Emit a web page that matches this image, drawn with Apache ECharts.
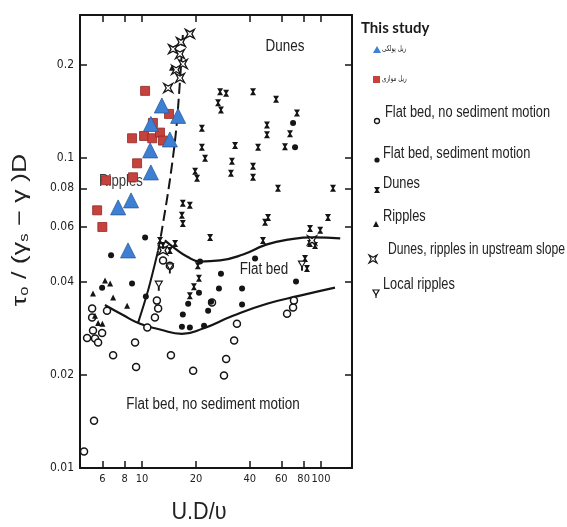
<!DOCTYPE html>
<html>
<head>
<meta charset="utf-8">
<script src="https://cdn.jsdelivr.net/npm/echarts@6.0.0/dist/echarts.min.js"></script>
<style>
html,body{margin:0;padding:0;background:#fff;}
#echart{width:567px;height:527px;}
</style>
</head>
<body>
<div id="echart"></div>
<script>
// tick values on the two log axes
var xTicks = [6, 8, 10, 20, 40, 60, 80, 100];
var yTicks = [0.01, 0.02, 0.04, 0.06, 0.08, 0.1, 0.2];

// this study
var rippleParallel = [[12.9,0.148],[15.9,0.137],[11.2,0.129],[14.3,0.115],[11.1,0.106],[11.2,0.090],[8.68,0.0731],[7.35,0.0694],[8.35,0.0504]];
var rippleLinear = [[10.4,0.165],[14.15,0.139],[11.5,0.130],[8.79,0.116],[10.26,0.118],[11.4,0.116],[12.6,0.121],[13.1,0.114],[9.38,0.0963],[8.9,0.0868],[6.29,0.0849],[5.61,0.0679],[6.0,0.060]];

// older data set
var flatNoMotion = [[4.74,0.0113],[5.39,0.0142],[4.93,0.0263],[5.26,0.0306],[5.32,0.0278],[5.46,0.0262],[5.68,0.0254],[5.98,0.0273],[6.37,0.0322],[5.26,0.0327],[6.89,0.0231],[9.14,0.0254],[9.26,0.0212],[10.7,0.0284],[11.8,0.0306],[12.1,0.0347],[12.3,0.0327],[13.1,0.0468],[14.3,0.045],[14.5,0.0231],[19.3,0.0206],[24.6,0.0342],[28.7,0.0199],[29.5,0.0225],[32.7,0.0258],[33.9,0.0292],[64.6,0.0315],[69.8,0.033],[70.6,0.0347]];
var flatMotion = [[6.71,0.0486],[10.4,0.0555],[8.79,0.0394],[10.5,0.0358],[5.98,0.0382],[16.9,0.0313],[18.1,0.0339],[18.5,0.0284],[20.8,0.0368],[23.4,0.0322],[24.3,0.0344],[27.6,0.0424],[26.9,0.038],[36.2,0.038],[36.2,0.0337],[42.8,0.0475],[72.5,0.040],[21.1,0.0464],[16.7,0.0286],[22.2,0.0288],[69.8,0.130],[71.6,0.1085]];
var dunes = [[27.3,0.164],[29.5,0.162],[26.6,0.151],[27.6,0.143],[41.7,0.164],[56.1,0.155],[73.4,0.140],[49.9,0.128],[49.9,0.119],[67.1,0.120],[21.6,0.125],[21.6,0.1085],[22.5,0.100],[33.1,0.110],[31.8,0.0978],[31.4,0.0894],[44.5,0.1085],[41.7,0.0942],[41.7,0.0868],[62.9,0.109],[57.5,0.080],[116.7,0.080],[19.8,0.0908],[20.3,0.0862],[16.9,0.0715],[18.5,0.0705],[16.7,0.0654],[16.9,0.0616],[24,0.0555],[50.6,0.0644],[48.7,0.0621],[109.4,0.0644],[86.8,0.0593],[99,0.0585],[86.8,0.0531],[92.6,0.0523],[81.4,0.0475],[83.5,0.0441],[13.1,0.0523],[14.3,0.0504],[15.3,0.0531],[12.6,0.0543],[20.5,0.045],[20.8,0.041],[19.5,0.0385],[18.5,0.036],[47.4,0.0543]];
var ripples = [[6.21,0.0403],[6.63,0.0394],[6.89,0.0355],[8.25,0.0334],[5.46,0.031],[5.68,0.0294],[6.0,0.0292],[5.32,0.0366],[14.7,0.196]];
var dunesUpstream = [[18.5,0.252],[16.5,0.237],[14.9,0.225],[16.3,0.217],[16.9,0.2015],[15.5,0.193],[16.3,0.1815],[14.0,0.1685],[89.1,0.0543],[13.1,0.0504]];
var localRipples = [[12.4,0.0388],[14.3,0.0441],[78.3,0.045]];

// boundary curves
var dashedBound = [[16.9,0.25],[16.3,0.179],[15.5,0.123],[14.3,0.0849],[12.9,0.0585],[12.3,0.0504]];
var leftBound = [[12.3,0.0504],[10.8,0.0374],[9.5,0.0294]];
var upperBound = [[13.4,0.0543],[15.3,0.0511],[17.8,0.0482],[21.1,0.0464],[27.3,0.0468],[36.7,0.0489],[49.9,0.0527],[67.1,0.0547],[90.2,0.0555],[128,0.0551]];
var lowerBound = [[6.2,0.0336],[7.73,0.0313],[9.75,0.0292],[12.6,0.028],[16.7,0.0271],[21.9,0.0282],[32.2,0.031],[49.9,0.0339],[76.3,0.036],[119.7,0.0382]];

var FONT = "'Liberation Sans',Arial,sans-serif";
var INK = '#151515';
var DUNE = 'path://M0,0L10,0L6.4,5L10,10L0,10L3.6,5Z';
var STAR = 'path://M0,0L5,2.8L10,0L7.2,5L10,10L5,7.2L0,10L2.8,5Z';
var LOCAL = 'path://M0,0L10,0L5,8ZM4.4,8L5.6,8L5.6,12L4.4,12Z';

function makeAxis(pos, min, max, ticks, withLabel, fmt, size){
	return {
		type:'log', logBase:10, position:pos, min:min, max:max,
		axisLine:{show:true, onZero:false, lineStyle:{color:INK, width:2}},
		axisTick:{show:true, inside:true, length:7, customValues:ticks, lineStyle:{color:INK, width:1.5}},
		axisLabel:{show:withLabel, customValues:ticks, formatter:fmt, fontFamily:"'DejaVu Sans Condensed',sans-serif", fontSize:size, color:'#222', margin:6},
		splitLine:{show:false},
		minorTick:{show:false}
	};
}

// condensed text: the scan uses a narrow face, so squeeze a regular one
function txt(x, y, s, size, opt){
	var o = opt || {};
	return {
		type:'text', x:x, y:y, z:o.z || 10, rotation:o.rot || 0, scaleX:o.sx || 0.8,
		style:{text:s, fontFamily:o.font || FONT, fontSize:size, fontWeight:o.weight || 'normal',
			fill:o.color || '#222', align:o.align || 'left', verticalAlign:'middle', rich:o.rich}
	};
}

function poly(pts, fill, stroke){
	return {type:'polygon', z:10, shape:{points:pts}, style:{fill:fill, stroke:stroke || null, lineWidth:1.2}};
}

function legendGraphics(){
	var g = [];
	var fa = "'DejaVu Sans',sans-serif";
	g.push(txt(361, 28, 'This study', 15, {font:'Lato, sans-serif', weight:'bold', color:'#1a1a1a', sx:1}));
	g.push(poly([[373,53],[381,53],[377,46]], '#3d7fd4'));
	g.push(txt(382, 49, 'ریل پولکی', 8, {font:fa, sx:0.7}));
	g.push({type:'rect', z:10, shape:{x:373, y:76, width:7, height:7}, style:{fill:'#c8423d'}});
	g.push(txt(382, 79, 'ریل موازی', 8, {font:fa, sx:0.7}));

	g.push({type:'circle', z:10, shape:{cx:377, cy:121, r:2.5}, style:{fill:'#fff', stroke:INK, lineWidth:1.3}});
	g.push(txt(385, 113, 'Flat bed, no sediment motion', 16));
	g.push({type:'circle', z:10, shape:{cx:377, cy:160, r:2.6}, style:{fill:INK}});
	g.push(txt(383, 154, 'Flat bed, sediment motion', 16));
	g.push(poly([[374,187],[380,187],[378,190],[380,193],[374,193],[376,190]], INK));
	g.push(txt(383, 184, 'Dunes', 16));
	g.push(poly([[373,227],[379,227],[376,221]], INK));
	g.push(txt(383, 217, 'Ripples', 16));
	g.push(poly([[369,255],[373,257.2],[377,255],[374.8,259],[377,263],[373,260.8],[369,263],[371.2,259]], '#fff', INK));
	g.push(txt(388, 250, 'Dunes, ripples in upstream slope', 16, {sx:0.76}));
	g.push(poly([[373,290],[379,290],[376,295]], '#fff', INK));
	g.push({type:'line', z:10, shape:{x1:376, y1:295, x2:376, y2:298}, style:{stroke:INK, lineWidth:1.2}});
	g.push(txt(383, 285, 'Local ripples', 16));
	return g;
}

function initChart(){
	var domain = document.getElementById('echart');
	var myChart = echarts.init(domain, null, {renderer:'canvas'});
	var xFmt = function(v){ return String(Math.round(v)); };
	var yFmt = function(v){ return String(+v.toFixed(2)); };

	var graphics = [
		txt(285, 47, 'Dunes', 16, {align:'center', z:1, sx:0.84}),
		txt(121, 182, 'Ripples', 16, {align:'center', z:1, sx:0.82, color:'#3a3a3a'}),
		txt(264, 270, 'Flat bed', 16, {align:'center', z:1, sx:0.84}),
		txt(213, 405, 'Flat bed, no sediment motion', 16, {align:'center', z:1, sx:0.84}),
		txt(199, 512, 'U.D/\u03c5', 24, {align:'center', sx:0.9}),
		txt(20, 230, '{a|\u03c4}{b|o} / (\u03b3{b|s} \u2212 \u03b3 )D', 21, {align:'center', rot:Math.PI/2, sx:1.28,
			rich:{a:{fontSize:21, fontFamily:FONT, fill:'#222'},
				b:{fontSize:13, fontFamily:FONT, fill:'#222', verticalAlign:'bottom'}}})
	].concat(legendGraphics());

	var option = {
		animation:false,
		backgroundColor:'#fff',
		grid:{left:80, top:15, right:215, bottom:59},
		xAxis:[makeAxis('bottom', 4.5, 149, xTicks, true, xFmt, 11), makeAxis('top', 4.5, 149, xTicks, false, xFmt, 11)],
		yAxis:[makeAxis('left', 0.01, 0.29, yTicks, true, yFmt, 12), makeAxis('right', 0.01, 0.29, yTicks, false, yFmt, 12)],
		graphic:graphics,
		series:[
			{type:'line', data:dashedBound, smooth:0.3, symbol:'none', lineStyle:{color:INK, width:2, type:[11,5]}, z:3},
			{type:'line', data:leftBound, smooth:0.3, symbol:'none', lineStyle:{color:INK, width:2}, z:3},
			{type:'line', data:upperBound, smooth:0.5, symbol:'none', lineStyle:{color:INK, width:2.2}, z:3},
			{type:'line', data:lowerBound, smooth:0.5, symbol:'none', lineStyle:{color:INK, width:2.2}, z:3},
			{type:'scatter', data:flatNoMotion, symbol:'circle', symbolSize:7, itemStyle:{color:'#fff', borderColor:INK, borderWidth:1.5, opacity:1}, z:3},
			{type:'scatter', data:flatMotion, symbol:'circle', symbolSize:6, itemStyle:{color:INK, opacity:1}, z:3},
			{type:'scatter', data:dunes, symbol:DUNE, symbolSize:[6,7], itemStyle:{color:INK, opacity:1}, z:3},
			{type:'scatter', data:ripples, symbol:'triangle', symbolSize:6, itemStyle:{color:INK, opacity:1}, z:3},
			{type:'scatter', data:dunesUpstream, symbol:STAR, symbolSize:9, itemStyle:{color:'#fff', borderColor:INK, borderWidth:1.3, opacity:1}, z:3},
			{type:'scatter', data:localRipples, symbol:LOCAL, symbolSize:[7,9], itemStyle:{color:'#fff', borderColor:INK, borderWidth:1.2, opacity:1}, z:3},
			{type:'scatter', name:'ریل موازی', data:rippleLinear, symbol:'rect', symbolSize:9, itemStyle:{color:'#c8423d', borderColor:'#8e2a26', borderWidth:0.8, opacity:1}, z:5},
			{type:'scatter', name:'ریل پولکی', data:rippleParallel, symbol:'triangle', symbolSize:[15,15], itemStyle:{color:'#3d7fd4', borderColor:'#2b5c9c', borderWidth:0.8, opacity:1}, z:6}
		]
	};
	myChart.setOption(option);
}
initChart();
</script>
</body>
</html>
